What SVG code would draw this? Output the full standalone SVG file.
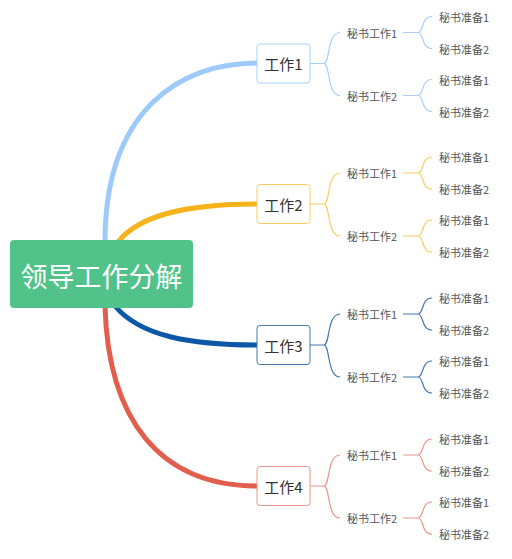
<svg xmlns="http://www.w3.org/2000/svg" width="512" height="559" viewBox="0 0 512 559">
<style>
text{font-family:"Noto Sans CJK SC","Noto Sans",sans-serif;}
.sm{font-size:11px;fill:#555;dominant-baseline:central;}
.l1{font-size:15px;fill:#333;text-anchor:middle;dominant-baseline:central;}
.box{fill:#fff;stroke-width:1;}
.main{fill:none;stroke-width:5;stroke-linecap:round;}
.thin{fill:none;stroke-width:1.2;}
</style>
<rect width="512" height="559" fill="#fff"/>
<g id="connectors">
  <path class="main" stroke="#9ccbfb" d="M105,242 C105,110 180,63 257,63"/>
  <path class="main" stroke="#f6b31c" d="M118,242 C140,214 190,204 257,204"/>
  <path class="main" stroke="#0c58a6" d="M115,306 C140,336 190,345 257,345"/>
  <path class="main" stroke="#e35d4c" d="M105,306 C108,420 160,486 257,486"/>
  <g stroke="#a9d1f7" class="thin">
    <path d="M310,63.5 H324 M324,63.5 C330,63.5 327,32.5 340,32.5 M324,63.5 C330,63.5 327,95.5 340,95.5"/>
    <path d="M403,32.5 H418 C424,32.5 421,16.5 432,16.5 M418,32.5 C424,32.5 421,48.5 432,48.5"/>
    <path d="M403,95.5 H418 C424,95.5 421,79.5 432,79.5 M418,95.5 C424,95.5 421,111.5 432,111.5"/>
  </g>
  <g stroke="#f8ce62" class="thin">
    <path d="M310,204 H324 M324,204 C330,204 327,173 340,173 M324,204 C330,204 327,236 340,236"/>
    <path d="M403,173 H418 C424,173 421,157 432,157 M418,173 C424,173 421,189 432,189"/>
    <path d="M403,236 H418 C424,236 421,220 432,220 M418,236 C424,236 421,252 432,252"/>
  </g>
  <g stroke="#4579af" class="thin">
    <path d="M310,345 H324 M324,345 C330,345 327,314 340,314 M324,345 C330,345 327,377 340,377"/>
    <path d="M403,314 H418 C424,314 421,298 432,298 M418,314 C424,314 421,330 432,330"/>
    <path d="M403,377 H418 C424,377 421,361 432,361 M418,377 C424,377 421,393 432,393"/>
  </g>
  <g stroke="#eb968c" class="thin">
    <path d="M310,486 H324 M324,486 C330,486 327,455 340,455 M324,486 C330,486 327,518 340,518"/>
    <path d="M403,455 H418 C424,455 421,439 432,439 M418,455 C424,455 421,471 432,471"/>
    <path d="M403,518 H418 C424,518 421,502 432,502 M418,518 C424,518 421,534 432,534"/>
  </g>
</g>
<g id="root">
  <rect x="10" y="240" width="183" height="68" rx="4" fill="#51c28a"/>
  <text x="101.5" y="275" font-size="27" fill="#fff" text-anchor="middle" dominant-baseline="central">领导工作分解</text>
</g>
<g id="work1">
  <rect class="box" x="257" y="44" width="53" height="39" rx="3" stroke="#a9d1f7"/>
  <text class="l1" x="283.5" y="63.5">工作1</text>
  <text class="sm" x="347" y="32.5">秘书工作1</text>
  <text class="sm" x="347" y="95.5">秘书工作2</text>
  <text class="sm" x="439" y="16.5">秘书准备1</text>
  <text class="sm" x="439" y="48.5">秘书准备2</text>
  <text class="sm" x="439" y="79.5">秘书准备1</text>
  <text class="sm" x="439" y="111.5">秘书准备2</text>
</g>
<g id="work2">
  <rect class="box" x="257" y="184.5" width="53" height="39" rx="3" stroke="#f8ce62"/>
  <text class="l1" x="283.5" y="204">工作2</text>
  <text class="sm" x="347" y="173">秘书工作1</text>
  <text class="sm" x="347" y="236">秘书工作2</text>
  <text class="sm" x="439" y="157">秘书准备1</text>
  <text class="sm" x="439" y="189">秘书准备2</text>
  <text class="sm" x="439" y="220">秘书准备1</text>
  <text class="sm" x="439" y="252">秘书准备2</text>
</g>
<g id="work3">
  <rect class="box" x="257" y="325.5" width="53" height="39" rx="3" stroke="#4579af"/>
  <text class="l1" x="283.5" y="345">工作3</text>
  <text class="sm" x="347" y="314">秘书工作1</text>
  <text class="sm" x="347" y="377">秘书工作2</text>
  <text class="sm" x="439" y="298">秘书准备1</text>
  <text class="sm" x="439" y="330">秘书准备2</text>
  <text class="sm" x="439" y="361">秘书准备1</text>
  <text class="sm" x="439" y="393">秘书准备2</text>
</g>
<g id="work4">
  <rect class="box" x="257" y="466.5" width="53" height="39" rx="3" stroke="#eb968c"/>
  <text class="l1" x="283.5" y="486">工作4</text>
  <text class="sm" x="347" y="455">秘书工作1</text>
  <text class="sm" x="347" y="518">秘书工作2</text>
  <text class="sm" x="439" y="439">秘书准备1</text>
  <text class="sm" x="439" y="471">秘书准备2</text>
  <text class="sm" x="439" y="502">秘书准备1</text>
  <text class="sm" x="439" y="534">秘书准备2</text>
</g>
</svg>
